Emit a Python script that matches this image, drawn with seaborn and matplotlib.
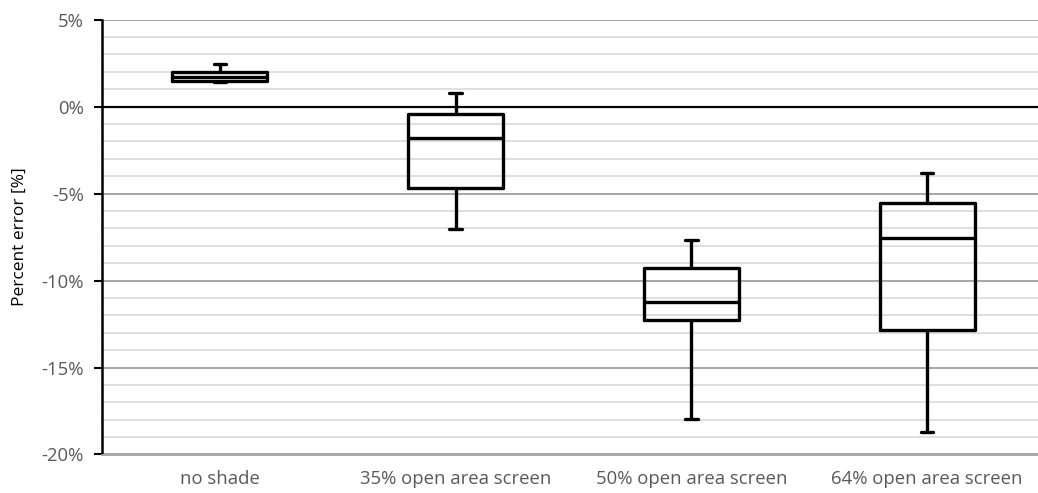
import numpy as np
import pandas as pd
import matplotlib
matplotlib.use("Agg")
import matplotlib.pyplot as plt
from matplotlib.ticker import MultipleLocator, FuncFormatter
import seaborn as sns

categories = ["no shade", "35% open area screen", "50% open area screen", "64% open area screen"]
# five-number summaries in percent: min, q1, median, q3, max
no_shade = [1.44, 1.48, 1.71, 1.99, 2.44]
open35 = [-7.05, -4.67, -1.78, -0.44, 0.77]
open50 = [-17.95, -12.24, -11.22, -9.29, -7.67]
open64 = [-18.71, -12.85, -7.53, -5.55, -3.79]
series = [no_shade, open35, open50, open64]
y_ticks = [-20, -15, -10, -5, 0, 5]

rows = []
for cat, vals in zip(categories, series):
    for v in vals:
        rows.append({"category": cat, "value": v})
df = pd.DataFrame(rows)

sns.set_theme(style="white")
plt.rcParams["font.family"] = ["Open Sans", "DejaVu Sans"]

fig = plt.figure(figsize=(10.38, 4.93), dpi=100)
ax = fig.add_axes([102 / 1038, 38.5 / 493, 943 / 1038, 434.8 / 493])

# grid
ax.yaxis.set_minor_locator(MultipleLocator(1))
ax.yaxis.set_major_locator(MultipleLocator(5))
ax.grid(which="minor", axis="y", color="#d9d9d9", linewidth=1.2, zorder=0)
ax.grid(which="major", axis="y", color="#a6a6a6", linewidth=1.4, zorder=0)
ax.set_axisbelow(True)

lc = "black"
sns.boxplot(data=df, x="category", y="value", order=categories, ax=ax,
            whis=(0, 100), width=0.403, fill=False, linewidth=2.4, color=lc,
            linecolor=lc, capwidths=0.052, zorder=3)

ax.axhline(0, color="black", linewidth=1.6, zorder=2)

ax.set_ylim(-20, 5)
ax.set_xlim(-0.5, 3.5)
ax.set_yticks(y_ticks)
ax.yaxis.set_major_formatter(FuncFormatter(lambda v, p: f"{int(round(v))}%"))
ax.set_xlabel("")
ax.set_ylabel("Percent error [%]", fontsize=12.5, color="black", labelpad=10)

for s in ["top", "right"]:
    ax.spines[s].set_visible(False)
ax.spines["left"].set_color("black")
ax.spines["left"].set_linewidth(1.8)
ax.spines["bottom"].set_color("#a6a6a6")
ax.spines["bottom"].set_linewidth(1.4)

ax.tick_params(axis="y", which="major", left=True, length=6, width=1.5, color="black",
               labelsize=13.3, labelcolor="#595959", pad=7)
ax.tick_params(axis="y", which="minor", left=False)
ax.tick_params(axis="x", bottom=False, length=0, labelsize=13.3, labelcolor="#595959", pad=11)

fig.savefig("out.png", dpi=100)
